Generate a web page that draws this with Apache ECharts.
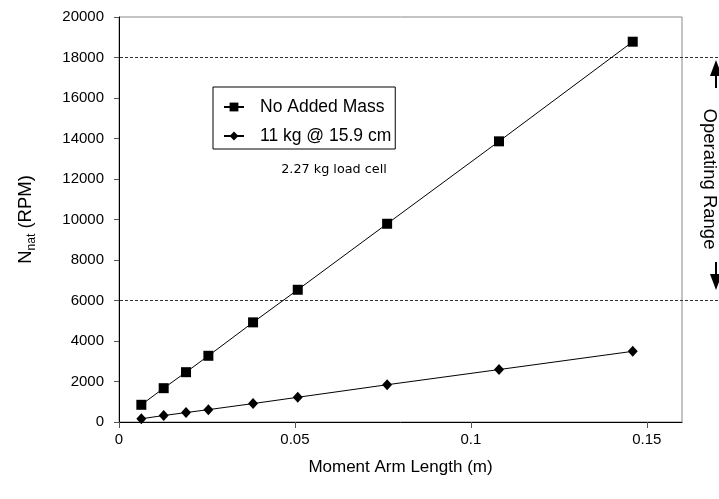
<!DOCTYPE html>
<html>
<head>
<meta charset="utf-8">
<script src="https://cdn.jsdelivr.net/npm/echarts@6/dist/echarts.min.js"></script>
<style>html,body{margin:0;padding:0;background:#fff;}#c{width:719px;height:499px;}</style>
</head>
<body>
<div id="c"></div>
<script>
// Moment arm lengths (m)
const armLength = [0.00635, 0.0127, 0.01905, 0.0254, 0.0381, 0.0508, 0.0762, 0.108, 0.146];
// Natural frequency, no added mass (RPM)
const noAddedMass = [850, 1670, 2460, 3270, 4920, 6530, 9790, 13860, 18780];
// Natural frequency, 11 kg @ 15.9 cm (RPM)
const addedMass = [160, 320, 465, 610, 910, 1220, 1840, 2590, 3490];
// Operating range limits (RPM)
const operatingRange = [6000, 18000];
const xTicks = [0, 0.05, 0.1, 0.15];
const seriesNames = ['No Added Mass', '11 kg @ 15.9 cm'];

const FONT = '"Liberation Sans", Arial, sans-serif';
const chart = echarts.init(document.getElementById('c'), null, {renderer: 'canvas'});

const pairs = (xs, ys) => xs.map((x, i) => [x, ys[i]]);

chart.setOption({
  animation: false,
  backgroundColor: '#fff',
  textStyle: {fontFamily: FONT},
  grid: [
    {left: 119, right: 37, top: 17, bottom: 77, show: true, borderColor: '#888', borderWidth: 1, backgroundColor: 'transparent'},
    {left: 120, right: 0, top: 17, bottom: 77}
  ],
  xAxis: [
    {
      type: 'value', gridIndex: 0, min: 0, max: 0.16,
      name: 'Moment Arm Length (m)', nameLocation: 'middle', nameGap: 37,
      nameTextStyle: {fontSize: 17, color: '#000', fontFamily: FONT},
      axisLine: {show: true, lineStyle: {color: '#000', width: 1}},
      axisTick: {show: true, length: 6, inside: false, customValues: xTicks, lineStyle: {color: '#555'}},
      axisLabel: {customValues: xTicks, fontSize: 15, color: '#000', margin: 10, fontFamily: FONT,
                  formatter: v => String(+v.toFixed(2))},
      splitLine: {show: false}
    },
    {type: 'value', gridIndex: 1, min: 0, max: 1, show: false}
  ],
  yAxis: [
    {
      type: 'value', gridIndex: 0, min: 0, max: 20000, interval: 2000,
      name: '{n|N}{s|nat}{n| (RPM)}', nameLocation: 'middle', nameGap: 84,
      nameTextStyle: {
        fontSize: 18.5, color: '#000', fontFamily: FONT,
        rich: {
          n: {fontSize: 18.5, color: '#000', fontFamily: FONT},
          s: {fontSize: 12, color: '#000', fontFamily: FONT, verticalAlign: 'bottom', padding: [0, 0, -3, 0]}
        }
      },
      axisLine: {show: true, lineStyle: {color: '#000', width: 1}},
      axisTick: {show: true, length: 5, inside: false, lineStyle: {color: '#555'}},
      axisLabel: {fontSize: 15, color: '#000', margin: 15, fontFamily: FONT, formatter: v => String(v)},
      splitLine: {show: false}
    },
    {type: 'value', gridIndex: 1, min: 0, max: 20000, show: false}
  ],
  legend: {
    orient: 'vertical', left: 213, top: 87,
    padding: [11, 4, 4, 10],
    itemGap: 11,
    itemWidth: 20, itemHeight: 11,
    borderColor: '#000', borderWidth: 1, borderRadius: 0,
    backgroundColor: '#fff',
    textStyle: {fontSize: 17.5, color: '#000', fontFamily: FONT, padding: [0, 0, 0, 11]},
    data: seriesNames
  },
  series: [
    {
      name: seriesNames[0], type: 'line', xAxisIndex: 0, yAxisIndex: 0,
      data: pairs(armLength, noAddedMass),
      symbol: 'rect', symbolSize: 10, showAllSymbol: true,
      lineStyle: {color: '#000', width: 1}, itemStyle: {color: '#000'},
      z: 5
    },
    {
      name: seriesNames[1], type: 'line', xAxisIndex: 0, yAxisIndex: 0,
      data: pairs(armLength, addedMass),
      symbol: 'diamond', symbolSize: [10, 11], showAllSymbol: true,
      lineStyle: {color: '#000', width: 1}, itemStyle: {color: '#000'},
      z: 5
    },
    {
      name: 'rangeLow', type: 'line', xAxisIndex: 1, yAxisIndex: 1,
      data: [[0, operatingRange[0]], [1, operatingRange[0]]],
      symbol: 'none', silent: true, clip: false,
      lineStyle: {color: '#333', width: 1, type: [3, 2]}, z: 2
    },
    {
      name: 'rangeHigh', type: 'line', xAxisIndex: 1, yAxisIndex: 1,
      data: [[0, operatingRange[1]], [1, operatingRange[1]]],
      symbol: 'none', silent: true, clip: false,
      lineStyle: {color: '#333', width: 1, type: [3, 2]}, z: 2
    }
  ],
  graphic: [
    {type: 'text', x: 334, y: 170, style: {text: '2.27 kg load cell', fontSize: 12.8, fill: '#000', fontFamily: '"DejaVu Sans", sans-serif', align: 'center', verticalAlign: 'middle'}},
    {type: 'text', x: 709, y: 179, rotation: -Math.PI / 2,
     style: {text: 'Operating Range', fontSize: 18.5, fill: '#000', fontFamily: FONT, align: 'center', verticalAlign: 'middle'}},
    {type: 'polygon', shape: {points: [[716, 60], [710, 76], [722, 76]]}, style: {fill: '#000'}},
    {type: 'line', shape: {x1: 716, y1: 75, x2: 716, y2: 88}, style: {stroke: '#000', lineWidth: 2}},
    {type: 'polygon', shape: {points: [[716, 290], [710, 274], [722, 274]]}, style: {fill: '#000'}},
    {type: 'line', shape: {x1: 716, y1: 262, x2: 716, y2: 275}, style: {stroke: '#000', lineWidth: 2}}
  ]
});
</script>
</body>
</html>
